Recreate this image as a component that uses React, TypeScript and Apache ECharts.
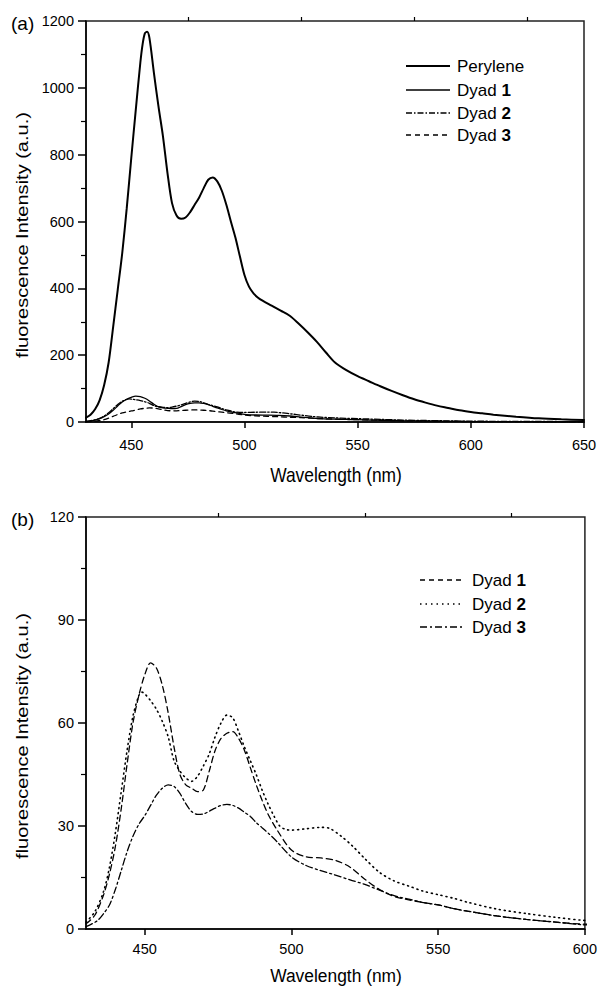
import { useEffect, useRef } from "react";
import * as echarts from "echarts";

const FONT = "'Liberation Sans', Arial, Helvetica, sans-serif";

// Wavelength (nm), intensity (a.u.)
const perylene: [number, number][] = [
  [430, 13], [432, 22], [434, 38], [436, 65], [438, 110], [440, 178], [442, 285], [444, 395],
  [446, 505], [448, 640], [450, 790], [452, 935], [454, 1075], [455, 1130], [456, 1163], [457, 1168],
  [458, 1150], [460, 1045], [462, 945], [464, 855], [466, 745], [468, 655], [470, 618], [472, 608],
  [474, 612], [476, 628], [478, 650], [480, 672], [482, 700], [484, 725], [486, 732], [488, 720],
  [490, 692], [492, 650], [494, 600], [496, 552], [498, 495], [500, 440], [502, 405], [504, 385],
  [506, 372], [508, 363], [512, 348], [516, 333], [520, 318], [524, 294], [528, 268], [532, 240],
  [536, 208], [540, 178], [545, 155], [550, 137], [555, 122], [560, 107], [565, 93], [570, 80],
  [575, 68], [580, 58], [585, 49], [590, 42], [595, 35], [600, 30], [605, 26], [610, 22],
  [620, 16], [630, 11], [640, 8], [650, 6],
];

const dyad1: [number, number][] = [
  [430, 1.5], [433, 4], [436, 10], [438, 16], [440, 24], [442, 35], [444, 48], [446, 60],
  [448, 68], [450, 74], [452, 77.5], [454, 76], [456, 71], [458, 63], [460, 53], [462, 45],
  [464, 42], [466, 41], [468, 40], [470, 40.5], [472, 46], [474, 52], [476, 55.5], [478, 57],
  [480, 57.5], [482, 55.5], [484, 52], [486, 47], [488, 42], [490, 37.5], [492, 33.5], [495, 29],
  [500, 23], [505, 21], [510, 20.7], [515, 20], [520, 18], [525, 14.5], [530, 11.5], [535, 9.5],
  [540, 8.5], [545, 7.7], [550, 7], [555, 6], [560, 5.2], [570, 3.8], [580, 2.8], [590, 2],
  [600, 1.4], [620, 1], [650, 0.6],
];

const dyad2: [number, number][] = [
  [430, 2], [433, 5], [436, 11], [438, 18], [440, 28], [442, 40], [444, 52], [446, 62],
  [448, 68], [449, 69], [450, 68.5], [452, 66.5], [454, 64], [456, 60.5], [458, 56], [460, 49],
  [462, 46], [464, 44], [466, 43], [468, 44.5], [470, 47.5], [472, 51], [474, 56], [476, 60],
  [478, 62.3], [480, 61.5], [482, 57.5], [484, 53], [486, 49], [488, 45], [490, 40.5], [492, 36.5],
  [494, 33], [496, 30], [498, 29], [500, 28.8], [505, 29.2], [510, 29.6], [513, 29.3], [517, 27],
  [521, 24], [525, 20.5], [530, 16.5], [535, 14], [540, 12.5], [545, 11], [550, 10], [555, 9],
  [560, 7.8], [570, 5.8], [580, 4.5], [590, 3.4], [600, 2.5], [620, 1.8], [650, 1.2],
];

const dyad3: [number, number][] = [
  [430, 0.7], [432, 1.5], [434, 2.5], [436, 4.5], [438, 7], [440, 11.5], [442, 17], [444, 22.5],
  [446, 27], [448, 30.5], [450, 33], [452, 36], [454, 39], [456, 41], [458, 42], [460, 41.5],
  [462, 39.5], [464, 36.5], [466, 34.2], [468, 33.4], [470, 33.5], [472, 34.3], [474, 35.2], [476, 36],
  [478, 36.3], [480, 36], [482, 35.2], [484, 34], [486, 32.8], [488, 31], [490, 29.5], [492, 28],
  [495, 25.5], [500, 21], [505, 18.5], [510, 17], [515, 15.7], [520, 14.3], [525, 13], [530, 11.3],
  [535, 9.7], [540, 8.7], [545, 7.7], [550, 7], [555, 6], [560, 5.2], [570, 3.8], [580, 2.8],
  [590, 2], [600, 1.2], [620, 0.9], [650, 0.5],
];

const xMajorTop = [450, 500, 550, 600, 650];
const xMinorTop = [475, 525, 575, 625];
const xMajorBottom = [450, 500, 550, 600];
const xMinorBottom = [475, 525, 575];

const X_NAME = "Wavelength (nm)";
const Y_NAME = "fluorescence Intensity (a.u.)";

const legendTop = [
  { label: "Perylene", num: "", width: 2, dash: null as number[] | null },
  { label: "Dyad ", num: "1", width: 1.3, dash: null as number[] | null },
  { label: "Dyad ", num: "2", width: 1.3, dash: [6, 2, 1.5, 2] },
  { label: "Dyad ", num: "3", width: 1.3, dash: [5, 4] },
];
const legendBottom = [
  { label: "Dyad ", num: "1", width: 1.3, dash: [5, 4] },
  { label: "Dyad ", num: "2", width: 1.5, dash: [1.5, 4] },
  { label: "Dyad ", num: "3", width: 1.3, dash: [7, 3, 2, 3] },
];

const BLACK = "#000";

function mainX(gridIndex: number, max: number, major: number[], labelMargin: number) {
  return {
    type: "value",
    gridIndex,
    min: 430,
    max,
    axisLine: { show: true, lineStyle: { color: BLACK, width: 1.5 } },
    axisTick: { show: true, inside: false, length: 6, customValues: major, lineStyle: { color: BLACK, width: 1.5 } },
    axisLabel: {
      show: true, customValues: major, margin: labelMargin, fontFamily: FONT, fontSize: 14.5, color: BLACK,
      formatter: (v: number) => String(v),
    },
    splitLine: { show: false },
  };
}

function minorX(gridIndex: number, max: number, minor: number[]) {
  return {
    type: "value",
    gridIndex,
    min: 430,
    max,
    axisLine: { show: false },
    axisTick: { show: true, inside: false, length: 4, customValues: minor, lineStyle: { color: BLACK, width: 1.2 } },
    axisLabel: { show: false, customValues: minor },
    splitLine: { show: false },
  };
}

function mainY(gridIndex: number, max: number, interval: number) {
  return {
    type: "value",
    gridIndex,
    min: 0,
    max,
    interval,
    axisLine: { show: true, lineStyle: { color: BLACK, width: 1.5 } },
    axisTick: { show: true, inside: false, length: 8, lineStyle: { color: BLACK, width: 1.5 } },
    minorTick: { show: true, splitNumber: 2, length: 5, lineStyle: { color: BLACK, width: 1.2 } },
    axisLabel: {
      show: true, margin: 12, fontFamily: FONT, fontSize: 14.5, color: BLACK,
      formatter: (v: number) => String(v),
    },
    splitLine: { show: false },
    minorSplitLine: { show: false },
  };
}

function legendGraphics(
  items: { label: string; num: string; width: number; dash: number[] | null }[],
  x1: number,
  x2: number,
  tx: number,
  ys: number[]
) {
  const els: any[] = [];
  items.forEach((it, i) => {
    els.push({
      type: "line",
      shape: { x1, y1: ys[i], x2, y2: ys[i] },
      style: { stroke: BLACK, lineWidth: it.width, lineDash: it.dash || undefined },
    });
    els.push({
      type: "text",
      x: tx,
      y: ys[i],
      style: {
        text: it.num ? `{a|${it.label}}{b|${it.num}}` : `{a|${it.label}}`,
        verticalAlign: "middle",
        align: "left",
        rich: {
          a: { fontFamily: FONT, fontSize: 17, fill: BLACK },
          b: { fontFamily: FONT, fontSize: 17, fontWeight: "bold", fill: BLACK },
        },
      },
    });
  });
  return els;
}

function xName(cx: number, cy: number, sy: number) {
  return {
    type: "text",
    x: cx,
    y: cy,
    scaleY: sy,
    style: { text: X_NAME, fontFamily: FONT, fontSize: 17.4, fill: BLACK, align: "center", verticalAlign: "middle" },
  };
}

function yName(cx: number, cy: number) {
  return {
    type: "text",
    x: cx,
    y: cy,
    rotation: Math.PI / 2,
    scaleX: 1.15,
    style: { text: Y_NAME, fontFamily: FONT, fontSize: 17.4, fill: BLACK, align: "center", verticalAlign: "middle" },
  };
}

export default function App() {
  const ref = useRef<HTMLDivElement>(null);

  useEffect(() => {
    if (!ref.current) return;
    const chart = echarts.init(ref.current, undefined, { renderer: "svg" });
    const line = (data: [number, number][], xi: number, yi: number, width: number, type: any) => ({
      type: "line",
      xAxisIndex: xi,
      yAxisIndex: yi,
      data,
      symbol: "none",
      showSymbol: false,
      smooth: 0.3,
      clip: true,
      lineStyle: { color: BLACK, width, type, cap: "round" },
      silent: true,
    });
    chart.setOption({
      animation: false,
      backgroundColor: "#fff",
      grid: [
        { left: 86, top: 21, width: 498, height: 401, show: true, borderColor: "#222", borderWidth: 1.5, backgroundColor: "transparent" },
        { left: 86, top: 517, width: 505, height: 412, show: true, borderColor: "#222", borderWidth: 1.5, backgroundColor: "transparent" },
      ],
      xAxis: [
        mainX(0, 650, xMajorTop, 15),
        minorX(0, 650, xMinorTop),
        mainX(1, 600, xMajorBottom, 12),
        minorX(1, 600, xMinorBottom),
      ],
      yAxis: [mainY(0, 1200, 200), mainY(1, 120, 30)],
      series: [
        line(perylene, 0, 0, 2, "solid"),
        line(dyad1, 0, 0, 1.3, "solid"),
        line(dyad2, 0, 0, 1.3, [6, 2, 1.5, 2]),
        line(dyad3, 0, 0, 1.3, [5, 4]),
        line(dyad1, 2, 1, 1.3, [6, 4]),
        line(dyad2, 2, 1, 1.6, [1, 4]),
        line(dyad3, 2, 1, 1.3, [7, 3, 2, 3]),
      ],
      graphic: [
        { type: "text", x: 11, y: 23, style: { text: "(a)", fontFamily: FONT, fontSize: 19, fill: BLACK, verticalAlign: "middle" } },
        { type: "text", x: 11, y: 519, style: { text: "(b)", fontFamily: FONT, fontSize: 19, fill: BLACK, verticalAlign: "middle" } },
        xName(336, 474.5, 1.18),
        xName(336, 976, 1.08),
        yName(22, 235),
        yName(22, 736),
        ...legendGraphics(legendTop, 406, 450, 457, [66, 90, 113, 135]),
        ...legendGraphics(legendBottom, 420, 464, 472, [580, 604, 627]),
      ],
    });
    return () => chart.dispose();
  }, []);

  return <div ref={ref} style={{ position: "absolute", left: 0, top: 0, width: 600, height: 989 }} />;
}
